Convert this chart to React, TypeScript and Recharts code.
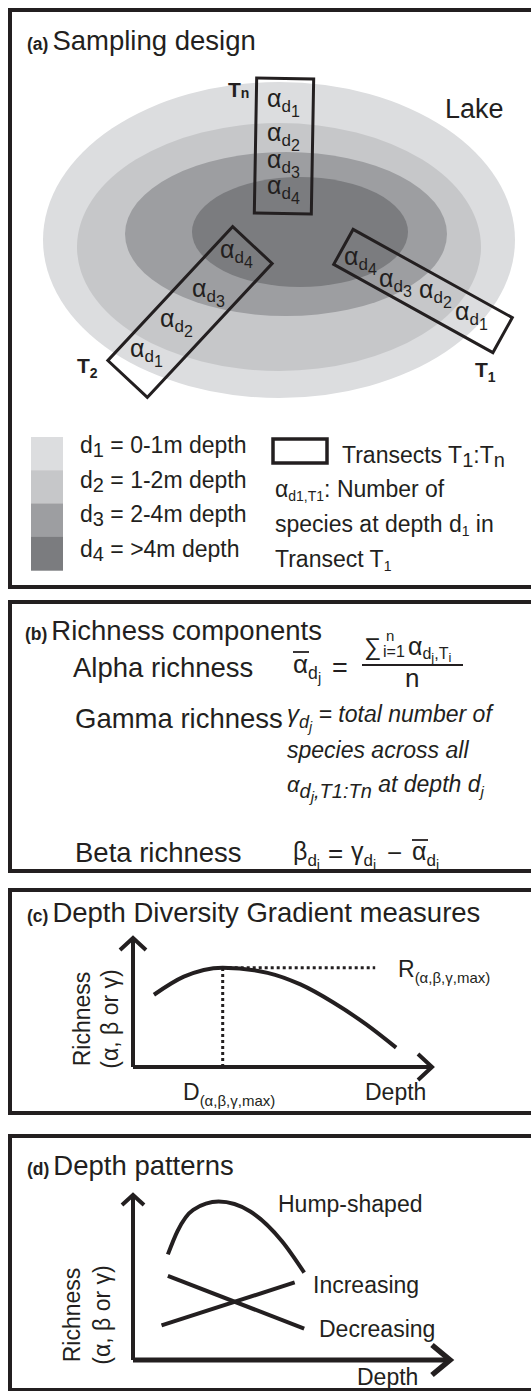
import React from 'react';
import {
  ComposedChart,
  LineChart,
  Line,
  Scatter,
  XAxis,
  YAxis,
  ReferenceLine,
  ReferenceDot,
  Customized,
} from 'recharts';

const INK = '#231f20';
const FONT = '"Liberation Sans", Arial, Helvetica, sans-serif';
const PAGE_W = 531;

// outer frame of each panel (page px)
const panelTops = [8, 600, 888, 1134];
const panelHeights = [581, 273, 227, 258];

// (a) depth zones
const zoneIds = ['1', '2', '3', '4'];
const zoneRanges = ['0-1m depth', '1-2m depth', '2-4m depth', '>4m depth'];
const zoneColors = ['#dcdddf', '#c6c7c9', '#9d9ea1', '#7b7c7f'];

// lake rings d1..d4: centre and half axes
const lakeRings = [
  { x: 279, y: 240, rx: 236, ry: 158 },
  { x: 279, y: 247, rx: 202, ry: 124 },
  { x: 286, y: 234, rx: 161, ry: 82 },
  { x: 300, y: 232, rx: 108, ry: 55 },
];

// transect boxes: centre, length, width, rotation (deg)
const transects = [
  { id: 'n', x: 284, y: 146, len: 57, wid: 135, rot: 1 },
  { id: '2', x: 190, y: 312, len: 183, wid: 54, rot: -47 },
  { id: '1', x: 423, y: 291, len: 182, wid: 40, rot: 29 },
];

const transectLabels = [
  { id: 'n', x: 228, y: 97 },
  { id: '2', x: 77, y: 373 },
  { id: '1', x: 475, y: 377 },
];

// alpha (per depth per transect) labels
const alphaMarks = [
  { d: '1', x: 267, y: 107 },
  { d: '2', x: 267, y: 141 },
  { d: '3', x: 267, y: 168 },
  { d: '4', x: 267, y: 194 },
  { d: '4', x: 220, y: 258 },
  { d: '3', x: 192, y: 297 },
  { d: '2', x: 160, y: 327 },
  { d: '1', x: 130, y: 357 },
  { d: '4', x: 344, y: 265 },
  { d: '3', x: 379, y: 287 },
  { d: '2', x: 419, y: 298 },
  { d: '1', x: 455, y: 320 },
];

// (c) generic depth-diversity curve
const depthC = [7, 17, 30, 45, 56, 67, 78, 88];
const richC = [56, 70, 77, 73, 64, 50, 33, 15];
const peakDepth = 30;
const peakRich = 77;
const rMaxEnd = 81;

// (d) depth patterns
const humpDepth = [11, 14, 19, 27, 37, 47, 54];
const humpRich = [64, 78, 91, 96, 90, 72, 53];
const decDepth = [11, 54];
const decRich = [51, 19];
const incDepth = [9, 51];
const incRich = [21, 47];

const toRows = (xs: number[], ys: number[]) => xs.map((d, i) => ({ depth: d, rich: ys[i] }));

const PageLayer = ({ top, children }: any) => (
  <g transform={`translate(0,${-top})`} fontFamily={FONT} fill={INK}>
    {children}
  </g>
);

const Frame = ({ i, children }: any) => (
  <div style={{ position: 'absolute', left: 0, top: panelTops[i], width: PAGE_W, height: panelHeights[i] }}>
    {children}
    <div
      style={{
        position: 'absolute',
        left: 8,
        top: 0,
        width: PAGE_W + 20,
        height: panelHeights[i],
        border: `4px solid ${INK}`,
        borderRight: 'none',
        boxSizing: 'border-box',
        pointerEvents: 'none',
      }}
    />
  </div>
);

const Title = ({ tag, text, x, y }: any) => (
  <text x={x} y={y}>
    <tspan fontSize={17.5} fontWeight="bold">{tag}</tspan>
    <tspan fontSize={27.5} dx={4}>{text}</tspan>
  </text>
);

const RichnessLabel = ({ x1, x2, y }: any) => (
  <g fontSize={23} textAnchor="middle">
    <text transform={`translate(${x1},${y}) rotate(-90)`}>Richness</text>
    <text transform={`translate(${x2},${y}) rotate(-90)`}>(α, β or γ)</text>
  </g>
);

// symbol with a "d_j" style double subscript
const Sub = ({ x, y, sym, s1, s2, size = 25, italic = false }: any) => (
  <text x={x} y={y} fontSize={size} fontStyle={italic ? 'italic' : 'normal'}>
    {sym}
    <tspan fontSize={size * 0.68} dy={size * 0.22}>{s1}</tspan>
    <tspan fontSize={size * 0.56} dy={size * 0.16}>{s2}</tspan>
  </text>
);

function PanelA() {
  const top = panelTops[0];
  return (
    <ComposedChart width={PAGE_W} height={panelHeights[0]} margin={{ top: 0, right: 0, bottom: 0, left: 0 }}>
      <XAxis type="number" dataKey="x" domain={[0, PAGE_W]} hide allowDataOverflow />
      <YAxis type="number" dataKey="y" domain={[top, top + panelHeights[0]]} reversed hide allowDataOverflow />
      <Scatter
        data={lakeRings}
        dataKey="y"
        isAnimationActive={false}
        shape={(p: any) => (
          <ellipse cx={p.cx} cy={p.cy} rx={p.payload.rx} ry={p.payload.ry} fill={zoneColors[lakeRings.indexOf(p.payload)]} />
        )}
      />
      <Scatter
        data={transects}
        dataKey="y"
        isAnimationActive={false}
        shape={(p: any) => (
          <rect
            x={p.cx - p.payload.len / 2}
            y={p.cy - p.payload.wid / 2}
            width={p.payload.len}
            height={p.payload.wid}
            transform={`rotate(${p.payload.rot} ${p.cx} ${p.cy})`}
            fill="none"
            stroke={INK}
            strokeWidth={3}
          />
        )}
      />
      <Scatter
        data={alphaMarks}
        dataKey="y"
        isAnimationActive={false}
        shape={(p: any) => (
          <text x={p.cx} y={p.cy} fontFamily={FONT} fill={INK} fontSize={25}>
            α<tspan fontSize={17} dy={5}>d</tspan>
            <tspan fontSize={16} dy={5}>{p.payload.d}</tspan>
          </text>
        )}
      />
      <Scatter
        data={transectLabels}
        dataKey="y"
        isAnimationActive={false}
        shape={(p: any) => (
          <text x={p.cx} y={p.cy} fontFamily={FONT} fill={INK} fontWeight="bold" fontSize={21}>
            T<tspan fontSize={14} dy={p.payload.id === 'n' ? 1 : 5}>{p.payload.id}</tspan>
          </text>
        )}
      />
      <Customized
        component={() => (
          <PageLayer top={top}>
            <Title tag="(a)" text="Sampling design" x={27} y={50} />
            <text x={445} y={118} fontSize={27}>Lake</text>
            {zoneIds.map((id, i) => (
              <g key={id}>
                <rect x={31} y={437 + i * 33.3} width={32} height={33.8} fill={zoneColors[i]} />
                <text x={80} y={453 + i * 34.7} fontSize={23}>
                  d<tspan fontSize={20} dy={4}>{id}</tspan>
                  <tspan dy={-4}> = {zoneRanges[i]}</tspan>
                </text>
              </g>
            ))}
            <rect x={273} y={439} width={54} height={24} fill="none" stroke={INK} strokeWidth={3.5} />
            <text x={342} y={463} fontSize={23}>
              Transects T<tspan fontSize={20} dy={4}>1</tspan>
              <tspan dy={-4}>:T</tspan>
              <tspan fontSize={20} dy={4}>n</tspan>
            </text>
            <text x={275} y={497} fontSize={23}>
              α<tspan fontSize={14} dy={4}>d1,T1</tspan>
              <tspan dy={-4}>: Number of</tspan>
            </text>
            <text x={275} y={532} fontSize={23}>
              species at depth d<tspan fontSize={14} dy={4}>1</tspan>
              <tspan dy={-4}> in</tspan>
            </text>
            <text x={275} y={567} fontSize={23}>
              Transect T<tspan fontSize={14} dy={4}>1</tspan>
            </text>
          </PageLayer>
        )}
      />
    </ComposedChart>
  );
}

const Bar = ({ x, y, w }: any) => <line x1={x} x2={x + w} y1={y} y2={y} stroke={INK} strokeWidth={1.8} />;

function PanelB() {
  const top = panelTops[1];
  return (
    <ComposedChart width={PAGE_W} height={panelHeights[1]} margin={{ top: 0, right: 0, bottom: 0, left: 0 }}>
      <XAxis type="number" domain={[0, PAGE_W]} hide />
      <YAxis type="number" domain={[top, top + panelHeights[1]]} reversed hide />
      <Customized
        component={() => (
          <PageLayer top={top}>
            <Title tag="(b)" text="Richness components" x={25} y={640} />
            <text x={73} y={677} fontSize={27.5}>Alpha richness</text>
            <Sub x={293} y={673} sym="α" s1="d" s2="j" size={26} />
            <Bar x={293} y={652} w={16} />
            <text x={332} y={677} fontSize={27}>=</text>
            <text x={364} y={655} fontSize={24}>∑</text>
            <text x={386} y={641} fontSize={15}>n</text>
            <text x={383} y={657} fontSize={16}>i=1</text>
            <text x={408} y={655} fontSize={25}>
              α<tspan fontSize={16} dy={4}>d</tspan>
              <tspan fontSize={13} dy={3}>j</tspan>
              <tspan fontSize={16} dy={-3}>,T</tspan>
              <tspan fontSize={13} dy={3}>i</tspan>
            </text>
            <line x1={362} x2={463} y1={665} y2={665} stroke={INK} strokeWidth={1.8} />
            <text x={405} y={687} fontSize={26}>n</text>

            <text x={75} y={728} fontSize={27.5}>Gamma richness</text>
            <g fontStyle="italic" fontSize={23}>
              <text x={287} y={722} fontSize={24}>
                γ<tspan fontSize={18} dy={6}>d</tspan>
                <tspan fontSize={14} dy={4}>j</tspan>
                <tspan fontSize={23} dy={-10}> = total number of</tspan>
              </text>
              <text x={287} y={758}>species across all</text>
              <text x={287} y={792} fontSize={22}>
                α<tspan fontSize={20} dy={6}>d</tspan>
                <tspan fontSize={15} dy={4}>j</tspan>
                <tspan fontSize={20} dy={-4}>,T1:Tn</tspan>
                <tspan fontSize={23} dy={-6}> at depth d</tspan>
                <tspan fontSize={15} dy={5}>j</tspan>
              </text>
            </g>

            <text x={75} y={862} fontSize={27.5}>Beta richness</text>
            <Sub x={293} y={860} sym="β" s1="d" s2="j" size={25} />
            <text x={328} y={862} fontSize={26}>=</text>
            <Sub x={351} y={860} sym="γ" s1="d" s2="j" size={25} />
            <text x={387} y={862} fontSize={26}>−</text>
            <Sub x={412} y={860} sym="α" s1="d" s2="j" size={25} />
            <Bar x={412} y={840} w={16} />
          </PageLayer>
        )}
      />
    </ComposedChart>
  );
}

const ChevronRight = (back: number, half: number, w: number) => (p: any) => (
  <polyline
    points={`${p.cx - back},${p.cy - half} ${p.cx},${p.cy} ${p.cx - back},${p.cy + half}`}
    fill="none"
    stroke={INK}
    strokeWidth={w}
  />
);

const ChevronUp = (half: number, drop: number, w: number) => (p: any) => (
  <polyline
    points={`${p.cx - half},${p.cy + drop} ${p.cx},${p.cy} ${p.cx + half},${p.cy + drop}`}
    fill="none"
    stroke={INK}
    strokeWidth={w}
  />
);

function PanelC() {
  const top = panelTops[2];
  const rows = toRows(depthC, richC);
  return (
    <LineChart width={PAGE_W} height={panelHeights[2]} margin={{ top: 50, right: 99, bottom: 48, left: 133 }}>
      <XAxis type="number" dataKey="depth" domain={[0, 100]} hide />
      <YAxis type="number" domain={[0, 100]} hide />
      <ReferenceLine segment={[{ x: 0, y: 0 }, { x: 0, y: 100 }]} stroke={INK} strokeWidth={4} />
      <ReferenceLine segment={[{ x: 0, y: 0 }, { x: 100, y: 0 }]} stroke={INK} strokeWidth={4} />
      <ReferenceDot x={0} y={100} shape={ChevronUp(13, 12, 4)} />
      <ReferenceDot x={100} y={0} shape={ChevronRight(14, 13, 4)} />
      <ReferenceLine
        segment={[{ x: peakDepth, y: peakRich }, { x: rMaxEnd, y: peakRich }]}
        stroke={INK}
        strokeWidth={3}
        strokeDasharray="3 3"
      />
      <ReferenceLine
        segment={[{ x: peakDepth, y: 0 }, { x: peakDepth, y: peakRich }]}
        stroke={INK}
        strokeWidth={3}
        strokeDasharray="3 3"
      />
      <Line data={rows} dataKey="rich" type="monotone" stroke={INK} strokeWidth={4} dot={false} isAnimationActive={false} />
      <Customized
        component={() => (
          <PageLayer top={top}>
            <Title tag="(c)" text="Depth Diversity Gradient measures" x={27} y={922} />
            <text x={398} y={977} fontSize={23}>
              R<tspan fontSize={15} dy={6}>(α,β,γ,max)</tspan>
            </text>
            <text x={183} y={1100} fontSize={23}>
              D<tspan fontSize={15} dy={6}>(α,β,γ,max)</tspan>
            </text>
            <text x={365} y={1100} fontSize={23}>Depth</text>
            <RichnessLabel x1={90} x2={118} y={1019} />
          </PageLayer>
        )}
      />
    </LineChart>
  );
}

function PanelD() {
  const top = panelTops[3];
  return (
    <LineChart width={PAGE_W} height={panelHeights[3]} margin={{ top: 61, right: 81, bottom: 32, left: 133 }}>
      <XAxis type="number" dataKey="depth" domain={[0, 100]} hide />
      <YAxis type="number" domain={[0, 100]} hide />
      <ReferenceLine segment={[{ x: 0, y: 0 }, { x: 0, y: 100 }]} stroke={INK} strokeWidth={4} />
      <ReferenceLine segment={[{ x: 0, y: 0 }, { x: 100, y: 0 }]} stroke={INK} strokeWidth={5} />
      <ReferenceDot x={0} y={100} shape={ChevronUp(11, 10, 4)} />
      <ReferenceDot x={100} y={0} shape={ChevronRight(18, 15, 5.5)} />
      <Line data={toRows(humpDepth, humpRich)} dataKey="rich" type="monotone" stroke={INK} strokeWidth={4} dot={false} isAnimationActive={false} />
      <Line data={toRows(incDepth, incRich)} dataKey="rich" type="linear" stroke={INK} strokeWidth={4} dot={false} isAnimationActive={false} />
      <Line data={toRows(decDepth, decRich)} dataKey="rich" type="linear" stroke={INK} strokeWidth={4} dot={false} isAnimationActive={false} />
      <Customized
        component={() => (
          <PageLayer top={top}>
            <Title tag="(d)" text="Depth patterns" x={27} y={1175} />
            <g fontSize={23}>
              <text x={278} y={1212}>Hump-shaped</text>
              <text x={313} y={1293}>Increasing</text>
              <text x={319} y={1337}>Decreasing</text>
              <text x={357} y={1385}>Depth</text>
            </g>
            <RichnessLabel x1={80} x2={110} y={1315} />
          </PageLayer>
        )}
      />
    </LineChart>
  );
}

export default function App() {
  return (
    <div style={{ position: 'relative', width: PAGE_W, height: 1391, overflow: 'hidden', background: '#fff' }}>
      <style>{'html,body{margin:0;padding:0;overflow:hidden;}'}</style>
      <Frame i={0}>
        <PanelA />
      </Frame>
      <Frame i={1}>
        <PanelB />
      </Frame>
      <Frame i={2}>
        <PanelC />
      </Frame>
      <Frame i={3}>
        <PanelD />
      </Frame>
    </div>
  );
}
